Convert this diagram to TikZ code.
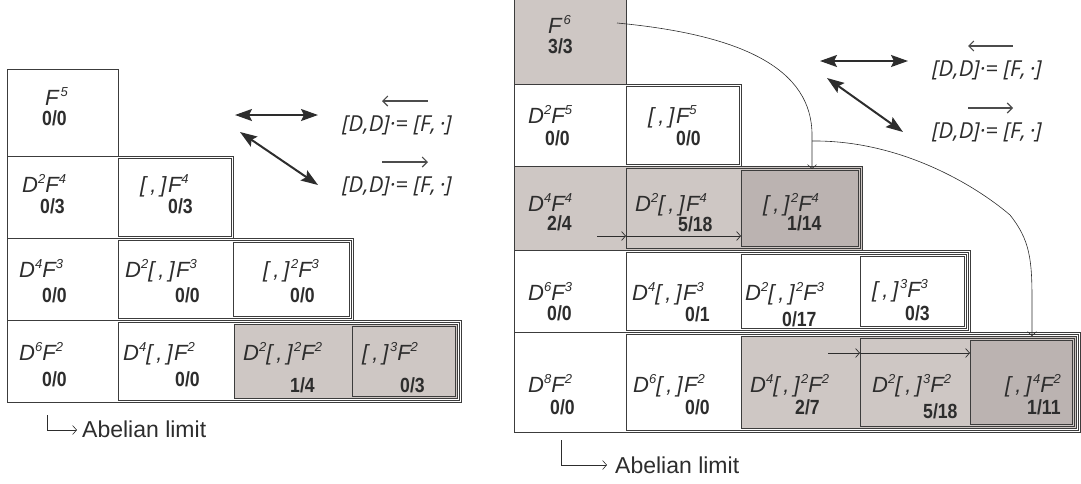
\documentclass[tikz,border=0pt]{standalone}
\usepackage{fontspec}
\setmainfont{Liberation Sans}
\newfontfamily\fmath{Liberation Sans}
\newfontfamily\fnum{Liberation Sans}[FakeStretch=0.86]
\newfontfamily\fleg{Open Sans}
\usetikzlibrary{arrows.meta}
\definecolor{lt}{RGB}{206,199,196}
\definecolor{dk}{RGB}{187,179,177}
\definecolor{ln}{RGB}{60,60,60}
\definecolor{txt}{RGB}{45,45,45}
\newcommand\sps[1]{\raisebox{8.5pt}{\fontsize{13}{13}\selectfont #1}}
\newcommand\brk{[\kern4pt{,}\kern4pt]\kern1.5pt}
\newcommand\nestrow[4]{%
  \foreach \k/\xx/\cc in {#4}{%
    \draw[frame,fill=\cc] (\xx,{#1+2*\k}) rectangle ({#3-2*\k},{#2-2*\k});
  }}
\tikzset{
  frame/.style={draw=ln, line width=0.7pt},
  fml/.style={anchor=base west, inner sep=0pt, text=txt, font=\fmath\itshape\fontsize{22}{22}\selectfont},
  num/.style={anchor=base west, inner sep=0pt, text=txt, font=\fnum\bfseries\fontsize{20.5}{20}\selectfont},
  leg/.style={anchor=base west, inner sep=0pt, text=txt, font=\fleg\itshape\fontsize{22}{22}\selectfont},
  abel/.style={anchor=base west, inner sep=0pt, text=txt, font=\fontsize{23}{23}\selectfont},
  bigarrow/.style={draw=txt, line width=2pt, {Stealth[length=17pt,width=12pt,inset=3pt]}-{Stealth[length=17pt,width=12pt,inset=3pt]}},
  overarrow/.style={draw=black!70, line width=1.1pt},
  thinarrow/.style={draw=txt, line width=0.7pt, -{Straight Barb[length=4pt,width=9pt]}},
}
\begin{document}
\begin{tikzpicture}[x=1pt,y=-1pt]
\useasboundingbox (0,0) rectangle (1081,483);
% ---------------- left diagram boxes
\nestrow{69}{156}{118}{0/7/white}
\nestrow{156}{238}{233}{0/7/white,1/118/white}
\nestrow{238}{320}{353}{0/7/white,1/118/white,2/233/white}
\nestrow{320}{402}{461}{0/7/white,1/118/white,2/234/lt,3/352/lt}
% ---------------- right diagram boxes
\nestrow{-2}{84}{626}{0/514/lt}
\nestrow{84}{166}{741}{0/514/white,1/626/white}
\nestrow{166}{250}{862}{0/514/lt,1/626/lt,2/741/dk}
\nestrow{250}{332}{970}{0/514/white,1/626/white,2/741/white,3/860/white}
\nestrow{332}{432}{1080}{0/514/white,1/626/white,2/741/lt,3/860/lt,4/970/dk}
% ---------------- left labels
\node[fml] (a1) at (45,105) {F\kern2pt\sps{5}};
\node[num] (a1n) at (42,125) {0/0};
\node[fml] (a2) at (22,192) {D\sps{2}F\sps{4}};
\node[num] (a2n) at (40,213) {0/3};
\node[fml] (b2) at (140,192) {\brk F\sps{4}};
\node[num] (b2n) at (168,213) {0/3};
\node[fml] (a3) at (19,277) {D\sps{4}F\sps{3}};
\node[num] (a3n) at (42,302) {0/0};
\node[fml] (b3) at (125,277) {D\sps{2}\brk F\sps{3}};
\node[num] (b3n) at (175,302) {0/0};
\node[fml] (c3) at (263,277) {\brk\sps{2}F\sps{3}};
\node[num] (c3n) at (290,302) {0/0};
\node[fml] (a4) at (19,360) {D\sps{6}F\sps{2}};
\node[num] (a4n) at (42,386) {0/0};
\node[fml] (b4) at (123,360) {D\sps{4}\brk F\sps{2}};
\node[num] (b4n) at (175,386) {0/0};
\node[fml] (c4) at (243,360) {D\sps{2}\brk\sps{2}F\sps{2}};
\node[num] (c4n) at (290,392) {1/4};
\node[fml] (d4) at (362,360) {\brk\sps{3}F\sps{2}};
\node[num] (d4n) at (400,392) {0/3};
% ---------------- right labels
\node[fml] (p1) at (548,33) {F\kern2pt\sps{6}};
\node[num] (p1n) at (548,53) {3/3};
\node[fml] (p2) at (528,123) {D\sps{2}F\sps{5}};
\node[num] (p2n) at (545,145) {0/0};
\node[fml] (q2) at (648,123) {\brk F\sps{5}};
\node[num] (q2n) at (676,145) {0/0};
\node[fml] (p3) at (528,211) {D\sps{4}F\sps{4}};
\node[num] (p3n) at (547,230) {2/4};
\node[fml] (q3) at (635,211) {D\sps{2}\brk F\sps{4}};
\node[num] (q3n) at (678,231) {5/18};
\node[fml] (r3) at (763,211) {\brk\sps{2}F\sps{4}};
\node[num] (r3n) at (787,230) {1/14};
\node[fml] (p4) at (528,300) {D\sps{6}F\sps{3}};
\node[num] (p4n) at (547,320) {0/0};
\node[fml] (q4) at (632,300) {D\sps{4}\brk F\sps{3}};
\node[num] (q4n) at (685,321) {0/1};
\node[fml] (r4) at (745,300) {D\sps{2}\brk\sps{2}F\sps{3}};
\node[num] (r4n) at (782,326) {0/17};
\node[fml] (s4) at (872,297) {\brk\sps{3}F\sps{3}};
\node[num] (s4n) at (905,320) {0/3};
\node[fml] (p5) at (528,392) {D\sps{8}F\sps{2}};
\node[num] (p5n) at (550,414) {0/0};
\node[fml] (q5) at (633,392) {D\sps{6}\brk F\sps{2}};
\node[num] (q5n) at (685,414) {0/0};
\node[fml] (r5) at (750,392) {D\sps{4}\brk\sps{2}F\sps{2}};
\node[num] (r5n) at (795,414) {2/7};
\node[fml] (s5) at (872,392) {D\sps{2}\brk\sps{3}F\sps{2}};
\node[num] (s5n) at (923,418) {5/18};
\node[fml] (t5) at (1005,392) {\brk\sps{4}F\sps{2}};
\node[num] (t5n) at (1027,414) {1/11};
% ---------------- legends
\coordinate (lh1) at (235,115); \coordinate (lh2) at (318,115);
\coordinate (ld1) at (240,132); \coordinate (ld2) at (318,185);
\draw[bigarrow] (lh1) -- (lh2);
\draw[bigarrow] (ld1) -- (ld2);
\node[leg] (lt1) at (342,131) {[D,D]·= [F,\,·]};
\node[leg] (lt2) at (342,192) {[D,D]·= [F,\,·]};
\coordinate (lo1a) at (382,101); \coordinate (lo1b) at (428,101);
\coordinate (lo2a) at (382,162); \coordinate (lo2b) at (428,162);
\draw[overarrow,{Straight Barb[length=5pt,width=10pt]}-] (lo1a) -- (lo1b);
\draw[overarrow,-{Straight Barb[length=5pt,width=10pt]}] (lo2a) -- (lo2b);
\coordinate (rh1) at (820,61); \coordinate (rh2) at (908,61);
\coordinate (rd1) at (827,78); \coordinate (rd2) at (903,132);
\draw[bigarrow] (rh1) -- (rh2);
\draw[bigarrow] (rd1) -- (rd2);
\node[leg] (rt1) at (932,76) {[D,D]·= [F,\,·]};
\node[leg] (rt2) at (932,138) {[D,D]·= [F,\,·]};
\coordinate (ro1a) at (968,46); \coordinate (ro1b) at (1013,46);
\coordinate (ro2a) at (968,108); \coordinate (ro2b) at (1013,108);
\draw[overarrow,{Straight Barb[length=5pt,width=10pt]}-] (ro1a) -- (ro1b);
\draw[overarrow,-{Straight Barb[length=5pt,width=10pt]}] (ro2a) -- (ro2b);
% ---------------- curved arrows
\coordinate (c1s) at (617,23);
\coordinate (c1e) at (812,169);
\coordinate (c2s) at (812,141);
\coordinate (c2e) at (1032,336);
\draw[thinarrow,line width=0.6pt] (c1s) .. controls (745,35) and (812,70) .. (812,135) -- (c1e);
\draw[thinarrow,line width=0.6pt] (c2s) .. controls (900,140) and (975,185) .. (1010,215) .. controls (1030,240) and (1032,260) .. (1032,300) -- (c2e);
% ---------------- horizontal arrows
\coordinate (h1) at (597,236); \coordinate (h2) at (626,236); \coordinate (h3) at (741,236);
\draw[thinarrow] (h1) -- (h2);
\draw[thinarrow] (h2) -- (h3);
\coordinate (k1) at (828,353); \coordinate (k2) at (860,353); \coordinate (k3) at (970,353);
\draw[thinarrow] (k1) -- (k2);
\draw[thinarrow] (k2) -- (k3);
% ---------------- Abelian limit
\coordinate (la1) at (47,415); \coordinate (la2) at (77,430);
\draw[thinarrow,line width=0.6pt] (la1) |- (la2);
\node[abel] (lab) at (82,437) {Abelian limit};
\coordinate (ra1) at (561,440); \coordinate (ra2) at (607,465);
\draw[thinarrow,line width=0.6pt] (ra1) |- (ra2);
\node[abel] (rab) at (615,473) {Abelian limit};
\end{tikzpicture}
\end{document}
